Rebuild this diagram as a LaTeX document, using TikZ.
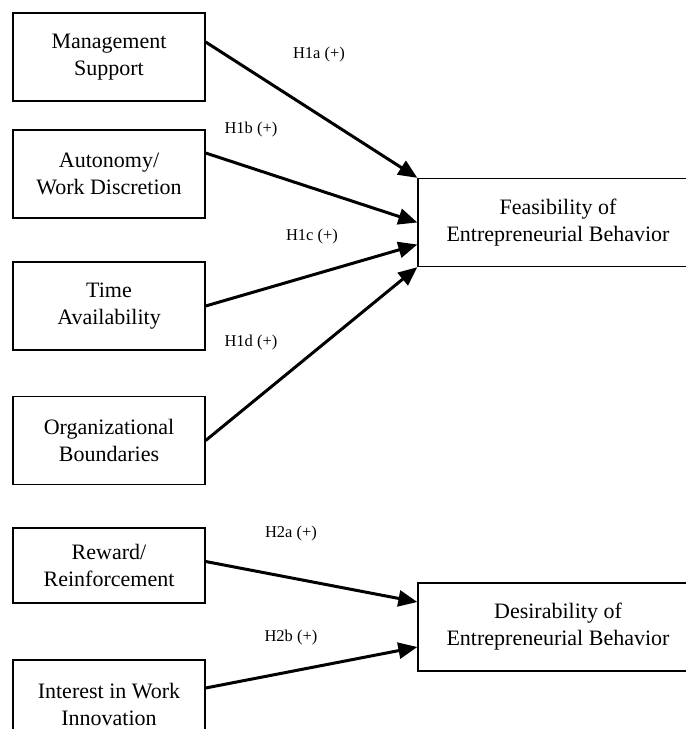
\documentclass[tikz,border=0pt]{standalone}
\usepackage{fontspec}
\setmainfont{Liberation Serif}
\usetikzlibrary{arrows.meta}

\begin{document}
\begin{tikzpicture}[x=1pt,y=-1pt,
  factor/.style={draw=black, line width=1.3pt, minimum width=192pt, minimum height=88pt, inner sep=0pt, align=center, font=\fontsize{22}{27}\selectfont},
  outcome/.style={factor, minimum width=280pt},
  hyp/.style={black, line width=3pt, -{Triangle[length=19pt,width=16pt]}},
  hlabel/.style={font=\fontsize{16.5}{20}\selectfont}]
\useasboundingbox (0,0) rectangle (686,729);
\node[factor] (mgmt) at (109,57) {Management\\Support};
\node[factor] (auton) at (109,174) {Autonomy/\\Work Discretion};
\node[factor] (time) at (109,306) {Time\\Availability};
\node[factor] (orgb) at (109,440.5) {Organizational\\Boundaries};
\node[factor, minimum height=75pt] (reward) at (109,565.5) {Reward/\\Reinforcement};
\node[factor] (interest) at (109,704) {Interest in Work\\Innovation};
\node[outcome] (feas) at (558,222.5) {Feasibility of\\Entrepreneurial Behavior};
\node[outcome] (desir) at (558,627) {Desirability of\\Entrepreneurial Behavior};
\draw[hyp] ([yshift=15pt]mgmt.east) -- (feas.north west);
\draw[hyp] ([yshift=21pt]auton.east) -- (feas.west);
\draw[hyp] (time.east) -- ([yshift=-22pt]feas.west);
\draw[hyp] (orgb.east) -- (feas.south west);
\draw[hyp] ([yshift=4pt]reward.east) -- ([yshift=25pt]desir.west);
\draw[hyp] ([yshift=16pt]interest.east) -- ([yshift=-20pt]desir.west);
\node[hlabel] (h1a) at (319,55) {H1a (+)};
\node[hlabel] (h1b) at (251,130) {H1b (+)};
\node[hlabel] (h1c) at (312,237) {H1c (+)};
\node[hlabel] (h1d) at (251,343) {H1d (+)};
\node[hlabel] (h2a) at (291,534) {H2a (+)};
\node[hlabel] (h2b) at (291,638) {H2b (+)};
\end{tikzpicture}
\end{document}
